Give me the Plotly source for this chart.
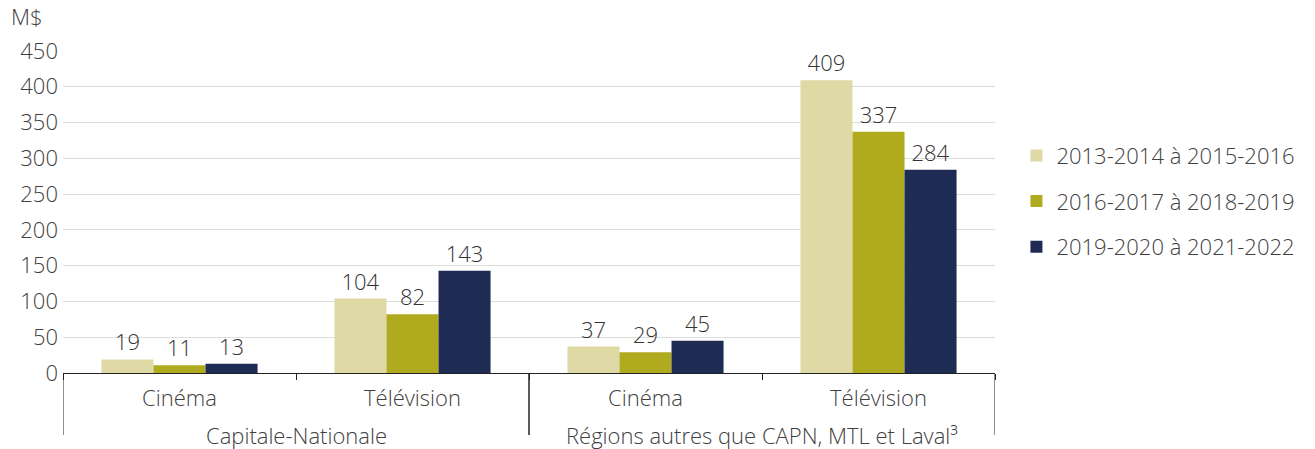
import plotly.graph_objects as go

regions = ["Capitale-Nationale", "Capitale-Nationale",
           "Régions autres que CAPN, MTL et Laval³", "Régions autres que CAPN, MTL et Laval³"]
sectors = ["Cinéma", "Télévision", "Cinéma", "Télévision"]
series_names = ["2013-2014 à 2015-2016", "2016-2017 à 2018-2019", "2019-2020 à 2021-2022"]
s1 = [19, 104, 37, 409]
s2 = [11, 82, 29, 337]
s3 = [13, 143, 45, 284]
colors = ["#DFD9A6", "#B0AA1F", "#1E2B53"]

FONT = dict(family="Open Sans", size=22, color="#404040", weight=300)
keys = [f"{r}|{s}" for r, s in zip(regions, sectors)]

fig = go.Figure()
for i, (name, vals) in enumerate(zip(series_names, [s1, s2, s3])):
    fig.add_trace(go.Bar(
        x=keys, y=vals, name=name, marker_color=colors[i],
        marker_line_width=0, text=[str(v) for v in vals], textposition="outside",
        textfont=dict(family="Open Sans", size=22, color="#333333", weight=300),
        cliponaxis=False, legendgroup=str(i),
    ))

PLOT_H = 322
fig.update_layout(
    width=1315, height=449,
    margin=dict(l=63, r=320, t=51, b=76),
    paper_bgcolor="white", plot_bgcolor="white",
    font=FONT,
    barmode="group", bargap=0.33, bargroupgap=0,
    legend=dict(x=1.023, y=0.74, xanchor="left", yanchor="top",
                font=FONT, tracegroupgap=14, itemwidth=30),
    showlegend=True,
)
fig.update_yaxes(range=[0, 450], dtick=50, showgrid=True, gridcolor="#DCDCDC",
                 gridwidth=1, zeroline=False, showline=False, ticks="",
                 tickfont=FONT, ticklabelstandoff=4)
fig.update_xaxes(type="category", tickvals=keys, ticktext=sectors,
                 range=[-0.5, len(keys) - 0.5],
                 showline=True, linecolor="#222222", linewidth=1,
                 ticks="outside", tickson="boundaries", tickcolor="#222222", ticklen=6,
                 tickfont=FONT, ticklabelstandoff=6, showgrid=False)

# outer level: region labels and dividers
groups = []
for idx, r in enumerate(regions):
    if groups and groups[-1][0] == r:
        groups[-1][2] = idx
    else:
        groups.append([r, idx, idx])
for r, a, b in groups:
    fig.add_annotation(text=r, x=(a + b) / 2, xref="x", y=0, yref="paper",
                       yanchor="middle", yshift=-62, showarrow=False, font=FONT)
    for edge in (a - 0.5, b + 0.5):
        fig.add_shape(type="line", xref="x", yref="paper", x0=edge, x1=edge,
                      y0=0, y1=-62 / PLOT_H, line=dict(color="#222222", width=1))

fig.add_annotation(text="M$", x=0, xref="paper", xanchor="right", xshift=-18,
                   y=1, yref="paper", yanchor="bottom", yshift=18,
                   showarrow=False, font=FONT)
fig.write_html("out.html", config={"displayModeBar": False},
               post_script="document.body.style.margin='0';")
